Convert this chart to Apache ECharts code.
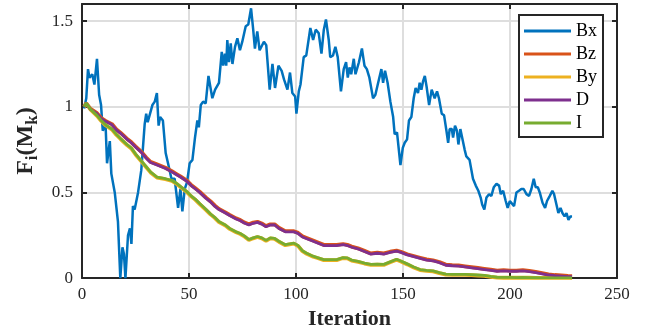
<!DOCTYPE html>
<html>
<head>
<meta charset="utf-8">
<script src="https://cdn.jsdelivr.net/npm/echarts@6/dist/echarts.min.js"></script>
<style>
  html, body { margin: 0; padding: 0; background: #fff; }
  #chart { width: 652px; height: 335px; }
</style>
</head>
<body>
<div id="chart"></div>
<script>
// series names and colours (MATLAB default order)
const seriesNames = ["Bx", "Bz", "By", "D", "I"];
const seriesColors = ["#0072BD", "#D95319", "#EDB120", "#7E2F8E", "#77AC30"];

const xTicks = [0, 50, 100, 150, 200, 250];
const yTicks = [0, 0.5, 1, 1.5];

// Bx: noisy curve
const bxIter = [1, 2, 2.8, 3.5, 4.8, 5.8, 7, 8, 8.9, 9.7, 11, 11.7, 13, 13.7, 15.3, 16.8, 17.9, 18.9, 19.6, 20.3,
  21.5, 22.4, 23.1, 23.8, 24.6, 26.2, 27.7, 29.3, 30, 30.7, 31.8, 32.9, 34, 35, 35.8, 36.5, 37.8, 39.1, 40.2, 41.8,
  43.3, 44.9, 46, 46.9, 48, 49.1, 50.3, 51.6, 52.8, 53.9, 54.6, 55.5, 56.6, 57.8, 59.1, 59.8, 60.9, 62.2, 64, 65.3,
  66, 66.8, 67.4, 67.9, 68.7, 69.5, 70.3, 71.5, 72.6, 73.8, 74.9, 76.5, 77.7, 79, 80, 80.8, 81.9, 83, 85, 86.1,
  87.7, 89, 90.2, 91.8, 93.3, 94.4, 95.2, 96, 97.2, 98.3, 99.6, 100.2, 101.3, 102.1, 103.6, 104.8, 106.7, 108, 109.2, 110.6,
  111.9, 113, 114, 115.3, 116, 117.3, 118.4, 119.5, 121, 122.3, 123.4, 124.2, 125, 125.8, 127, 127.8, 129.4, 130.8, 132, 133.1,
  134.3, 136, 137.1, 138.2, 139.1, 139.9, 140.7, 141.6, 142.8, 144.1, 145.4, 146.1, 147.2, 148.8, 149.9, 150.8, 151.9, 152.8, 153.9, 155,
  155.9, 157, 157.8, 158.6, 159.4, 160.2, 161, 162.2, 163.4, 164.8, 165.9, 166.8, 168.1, 169.2, 170.3, 171.1, 171.8, 172.8, 173.4, 174.3,
  175.2, 175.9, 176.8, 177.8, 178.8, 179.6, 181.1, 182.7, 184, 185.2, 186.3, 187, 188, 189, 190.2, 191.3, 192.4, 193.7, 194.9, 195.7,
  196.8, 198, 198.9, 199.9, 200.8, 201.9, 203, 204.2, 205.3, 206.4, 207.7, 208.9, 210, 211.1, 212, 213, 213.9, 215.2, 216.4, 217.3,
  218.6, 219.8, 220.6, 221.7, 222.6, 223.6, 224.5, 225.5, 226.4, 227.3, 228.2, 229];
const bxVal = [0.99, 1.05, 1.22, 1.17, 1.19, 1.13, 1.28, 1.07, 1.01, 0.86, 0.90, 0.67, 0.80, 0.61, 0.50, 0.33, 0.0, 0.18, 0.14, 0.0,
  0.25, 0.29, 0.20, 0.42, 0.40, 0.50, 0.63, 0.90, 0.96, 0.91, 0.96, 1.01, 1.03, 1.08, 0.89, 0.94, 0.92, 0.73, 0.67, 0.58,
  0.58, 0.41, 0.52, 0.39, 0.52, 0.56, 0.67, 0.69, 0.82, 0.92, 0.88, 1.01, 1.03, 1.02, 1.18, 1.17, 1.05, 1.10, 1.14, 1.32,
  1.24, 1.31, 1.24, 1.39, 1.26, 1.37, 1.25, 1.35, 1.40, 1.33, 1.38, 1.47, 1.48, 1.575, 1.45, 1.34, 1.44, 1.33, 1.38, 1.36,
  1.10, 1.25, 1.11, 1.24, 1.21, 1.16, 1.17, 1.10, 1.20, 1.08, 1.06, 0.96, 1.09, 1.13, 1.29, 1.30, 1.46, 1.39, 1.45, 1.43,
  1.31, 1.45, 1.51, 1.39, 1.29, 1.30, 1.35, 1.29, 1.09, 1.22, 1.26, 1.17, 1.23, 1.19, 1.28, 1.19, 1.26, 1.34, 1.24, 1.22,
  1.17, 1.05, 1.07, 1.13, 1.14, 1.22, 1.14, 1.21, 1.14, 1.03, 0.94, 0.84, 0.85, 0.66, 0.76, 0.79, 0.81, 0.92, 0.94, 1.05,
  1.11, 1.08, 1.14, 1.10, 1.15, 1.18, 1.12, 1.01, 1.10, 1.05, 1.09, 1.05, 0.96, 0.95, 0.86, 0.79, 0.87, 0.87, 0.82, 0.89,
  0.86, 0.78, 0.87, 0.81, 0.75, 0.71, 0.69, 0.58, 0.54, 0.51, 0.47, 0.43, 0.40, 0.47, 0.49, 0.48, 0.53, 0.55, 0.54, 0.49,
  0.51, 0.45, 0.41, 0.45, 0.46, 0.42, 0.50, 0.51, 0.52, 0.52, 0.49, 0.48, 0.52, 0.58, 0.53, 0.53, 0.50, 0.44, 0.41, 0.45,
  0.48, 0.51, 0.49, 0.43, 0.38, 0.41, 0.38, 0.36, 0.38, 0.34, 0.36, 0.36];

// the four smooth curves share the same iterations
const smoothIter = [1, 2, 4, 7, 9, 11, 14, 16, 18, 21, 23, 25, 28, 30, 32, 35, 37, 39, 42, 44,
  46, 49, 51, 53, 55, 58, 60, 62, 64, 67, 69, 72, 74, 76, 78, 80, 82, 84, 86, 88,
  90, 92, 95, 97, 99, 101, 103, 105, 108, 110, 113, 116, 119, 122, 124, 126, 129, 132, 135, 138,
  141, 144, 147, 149, 152, 155, 158, 161, 164, 167, 170, 173, 176, 179, 182, 185, 188, 191, 194, 197,
  200, 203, 206, 209, 212, 215, 218, 221, 224, 227, 229];
const dVal = [1.00, 1.02, 0.985, 0.96, 0.93, 0.915, 0.895, 0.865, 0.845, 0.81, 0.79, 0.765, 0.73, 0.70, 0.675, 0.66, 0.65, 0.64, 0.62, 0.605,
  0.59, 0.565, 0.54, 0.52, 0.50, 0.465, 0.445, 0.42, 0.40, 0.38, 0.365, 0.345, 0.335, 0.32, 0.31, 0.32, 0.325, 0.315, 0.30, 0.31,
  0.31, 0.29, 0.27, 0.27, 0.27, 0.26, 0.24, 0.23, 0.215, 0.205, 0.19, 0.19, 0.19, 0.195, 0.19, 0.18, 0.17, 0.155, 0.14, 0.145,
  0.14, 0.15, 0.157, 0.15, 0.135, 0.125, 0.115, 0.105, 0.10, 0.09, 0.075, 0.072, 0.07, 0.065, 0.06, 0.055, 0.05, 0.045, 0.04, 0.042,
  0.04, 0.04, 0.042, 0.038, 0.032, 0.025, 0.018, 0.014, 0.012, 0.009, 0.008];
const bzVal = [1.00, 1.02, 0.988, 0.963, 0.934, 0.918, 0.899, 0.869, 0.849, 0.814, 0.794, 0.769, 0.734, 0.704, 0.679, 0.664, 0.654, 0.644, 0.624, 0.609,
  0.594, 0.569, 0.544, 0.524, 0.504, 0.469, 0.449, 0.424, 0.404, 0.384, 0.369, 0.349, 0.339, 0.324, 0.314, 0.324, 0.329, 0.319, 0.304, 0.314,
  0.314, 0.294, 0.274, 0.274, 0.274, 0.264, 0.244, 0.234, 0.219, 0.209, 0.194, 0.194, 0.194, 0.199, 0.194, 0.184, 0.174, 0.159, 0.144, 0.149,
  0.144, 0.154, 0.161, 0.154, 0.139, 0.129, 0.119, 0.109, 0.104, 0.094, 0.079, 0.076, 0.074, 0.069, 0.064, 0.059, 0.054, 0.049, 0.044, 0.046,
  0.044, 0.044, 0.046, 0.042, 0.036, 0.029, 0.022, 0.018, 0.016, 0.013, 0.012];
const iVal = [1.00, 1.02, 0.985, 0.95, 0.92, 0.895, 0.87, 0.84, 0.815, 0.78, 0.76, 0.725, 0.68, 0.65, 0.62, 0.59, 0.585, 0.58, 0.57, 0.555,
  0.535, 0.505, 0.48, 0.46, 0.435, 0.40, 0.375, 0.355, 0.33, 0.31, 0.29, 0.27, 0.26, 0.245, 0.225, 0.235, 0.243, 0.235, 0.22, 0.235,
  0.232, 0.215, 0.195, 0.20, 0.204, 0.19, 0.16, 0.145, 0.128, 0.12, 0.108, 0.108, 0.108, 0.12, 0.118, 0.105, 0.098, 0.088, 0.08, 0.082,
  0.08, 0.095, 0.11, 0.10, 0.083, 0.065, 0.05, 0.045, 0.042, 0.032, 0.023, 0.022, 0.022, 0.022, 0.02, 0.018, 0.016, 0.01, 0.005, 0.004,
  0.004, 0.003, 0.004, 0.003, 0.002, 0.001, 0.001, 0.001, 0.001, 0.001, 0.001];
const byVal = [1.00, 1.02, 0.983, 0.947, 0.917, 0.892, 0.867, 0.837, 0.812, 0.777, 0.757, 0.722, 0.677, 0.647, 0.617, 0.587, 0.582, 0.577, 0.567, 0.552,
  0.532, 0.502, 0.477, 0.457, 0.432, 0.397, 0.372, 0.352, 0.327, 0.307, 0.287, 0.267, 0.257, 0.242, 0.222, 0.232, 0.24, 0.232, 0.217, 0.232,
  0.229, 0.212, 0.192, 0.197, 0.201, 0.187, 0.157, 0.142, 0.125, 0.117, 0.105, 0.105, 0.105, 0.117, 0.115, 0.102, 0.095, 0.085, 0.077, 0.079,
  0.077, 0.092, 0.107, 0.097, 0.08, 0.062, 0.047, 0.042, 0.039, 0.029, 0.02, 0.019, 0.019, 0.019, 0.017, 0.015, 0.013, 0.007, 0.003, 0.002,
  0.002, 0.002, 0.002, 0.002, 0.001, 0.001, 0.001, 0.001, 0.001, 0.001, 0.001];

const serif = "Liberation Serif";
const axisColor = "#262626";

function pairs(xs, ys) {
  return xs.map((x, i) => [x, ys[i]]);
}

const chart = echarts.init(document.getElementById("chart"));

const frameLine = { show: true, onZero: false, lineStyle: { color: axisColor, width: 2 } };
const tickStyle = {
  show: true,
  inside: true,
  length: 5,
  lineStyle: { color: axisColor, width: 2 }
};
const gridLine = { show: true, lineStyle: { color: "#dedede", width: 2 } };

chart.setOption({
  animation: false,
  backgroundColor: "#fff",
  color: seriesColors,
  grid: {
    left: 82,
    right: 35,
    top: 4,
    bottom: 51
  },
  legend: {
    data: seriesNames,
    orient: "vertical",
    left: 519,
    top: 15,
    icon: "rect",
    itemWidth: 47,
    itemHeight: 3,
    itemGap: 5,
    itemTextGap: 5,
    padding: [7, 6, 5, 5],
    backgroundColor: "#fff",
    borderColor: axisColor,
    borderWidth: 2,
    textStyle: { fontFamily: serif, fontSize: 18, color: "#000", lineHeight: 18 }
  },
  xAxis: [
    {
      type: "value",
      min: 0,
      max: 250,
      interval: 50,
      name: "Iteration",
      nameLocation: "middle",
      nameGap: 26,
      nameTextStyle: { fontFamily: serif, fontSize: 22, fontWeight: "bold", color: axisColor },
      axisLine: frameLine,
      axisTick: Object.assign({ customValues: xTicks }, tickStyle),
      axisLabel: { fontFamily: serif, fontSize: 17, color: axisColor, margin: 8, customValues: xTicks },
      splitLine: gridLine
    },
    {
      type: "value",
      position: "top",
      min: 0,
      max: 250,
      interval: 50,
      axisLine: frameLine,
      axisTick: Object.assign({ customValues: xTicks }, tickStyle),
      axisLabel: { show: false },
      splitLine: { show: false }
    }
  ],
  yAxis: [
    {
      type: "value",
      min: 0,
      max: 1.6,
      name: "{a|F}{s|i}{a|(M}{s|k}{a|)}",
      nameLocation: "middle",
      nameRotate: 90,
      nameGap: 37,
      nameTextStyle: {
        rich: {
          a: { fontFamily: serif, fontSize: 24, fontWeight: "bold", color: axisColor, lineHeight: 30, verticalAlign: "middle" },
          s: { fontFamily: serif, fontSize: 17, fontWeight: "bold", color: axisColor, lineHeight: 15, verticalAlign: "bottom" }
        }
      },
      axisLine: frameLine,
      axisTick: Object.assign({ customValues: yTicks }, tickStyle),
      axisLabel: { fontFamily: serif, fontSize: 17, color: axisColor, margin: 9, customValues: yTicks },
      splitLine: gridLine
    },
    {
      type: "value",
      position: "right",
      min: 0,
      max: 1.6,
      axisLine: frameLine,
      axisTick: Object.assign({ customValues: yTicks }, tickStyle),
      axisLabel: { show: false },
      splitLine: { show: false }
    }
  ],
  series: [
    { name: "Bx", type: "line", data: pairs(bxIter, bxVal), showSymbol: false, lineStyle: { width: 2.5 }, z: 2 },
    { name: "Bz", type: "line", data: pairs(smoothIter, bzVal), showSymbol: false, lineStyle: { width: 3.8 }, z: 3 },
    { name: "By", type: "line", data: pairs(smoothIter, byVal), showSymbol: false, lineStyle: { width: 3.8 }, z: 3 },
    { name: "D", type: "line", data: pairs(smoothIter, dVal), showSymbol: false, lineStyle: { width: 2.8 }, z: 4 },
    { name: "I", type: "line", data: pairs(smoothIter, iVal), showSymbol: false, lineStyle: { width: 2.8 }, z: 4 }
  ]
});
</script>
</body>
</html>
